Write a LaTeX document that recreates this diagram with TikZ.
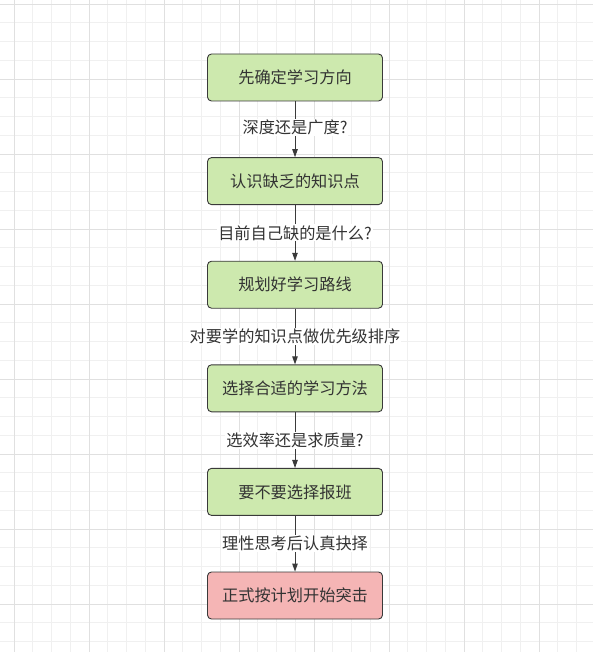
\documentclass[tikz,border=0pt]{standalone}
\usepackage{fontspec}
\newfontfamily\cjk{Noto Sans CJK SC}
\usetikzlibrary{arrows.meta}
\definecolor{gridminor}{HTML}{F0F0F0}
\definecolor{gridmajor}{HTML}{E0E0E0}
\definecolor{boxgreen}{HTML}{CDE9AE}
\definecolor{boxred}{HTML}{F5B5B5}
\definecolor{edgegray}{HTML}{3A3A3A}
\definecolor{txtgray}{HTML}{333333}
\tikzset{
  stepbox/.style={draw=edgegray, line width=0.9bp, rounded corners=4bp, minimum width=175bp, minimum height=47bp, inner sep=0pt, text=txtgray, font=\cjk\fontsize{16.2bp}{19bp}\selectfont},
  greenbox/.style={stepbox, fill=boxgreen},
  redbox/.style={stepbox, fill=boxred},
  edgelabel/.style={fill=white, inner xsep=1bp, inner ysep=1bp, text=txtgray, font=\cjk\fontsize{16.2bp}{19bp}\selectfont},
  flow/.style={draw=edgegray, line width=0.9bp, -{Triangle[length=8bp, width=5.5bp]}}
}
\begin{document}
\begin{tikzpicture}[x=1bp, y=-1bp]
\useasboundingbox (0,0) rectangle (593,652);
\fill[white] (0,0) rectangle (593,652);
% grid
\foreach \i in {0,...,32} {
  \pgfmathsetmacro{\gx}{14+18.75*(\i-0)}
  \draw[gridminor, line width=0.7bp] (\gx,0) -- (\gx,652);
}
\foreach \i in {0,...,35} {
  \pgfmathsetmacro{\gy}{4+18.75*\i}
  \draw[gridminor, line width=0.7bp] (0,\gy) -- (593,\gy);
}
\foreach \i in {0,...,8} {
  \pgfmathsetmacro{\gx}{14+75*\i}
  \draw[gridmajor, line width=0.8bp] (\gx,0) -- (\gx,652);
}
\foreach \i in {0,...,8} {
  \pgfmathsetmacro{\gy}{4+75*\i}
  \draw[gridmajor, line width=0.8bp] (0,\gy) -- (593,\gy);
}
% boxes
\node[greenbox] (b1) at (295,77.5) {先确定学习方向};
\node[greenbox] (b2) at (295,181.1) {认识缺乏的知识点};
\node[greenbox] (b3) at (295,284.7) {规划好学习路线};
\node[greenbox] (b4) at (295,388.3) {选择合适的学习方法};
\node[greenbox] (b5) at (295,491.9) {要不要选择报班};
\node[redbox] (b6) at (295,595.5) {正式按计划开始突击};
% connectors
\draw[flow] (b1) -- (b2) node[edgelabel, midway, yshift=1.5bp] (l1) {深度还是广度?};
\draw[flow] (b2) -- (b3) node[edgelabel, midway] (l2) {目前自己缺的是什么?};
\draw[flow] (b3) -- (b4) node[edgelabel, midway] (l3) {对要学的知识点做优先级排序};
\draw[flow] (b4) -- (b5) node[edgelabel, midway] (l4) {选效率还是求质量?};
\draw[flow] (b5) -- (b6) node[edgelabel, midway] (l5) {理性思考后认真抉择};
\end{tikzpicture}
\end{document}
